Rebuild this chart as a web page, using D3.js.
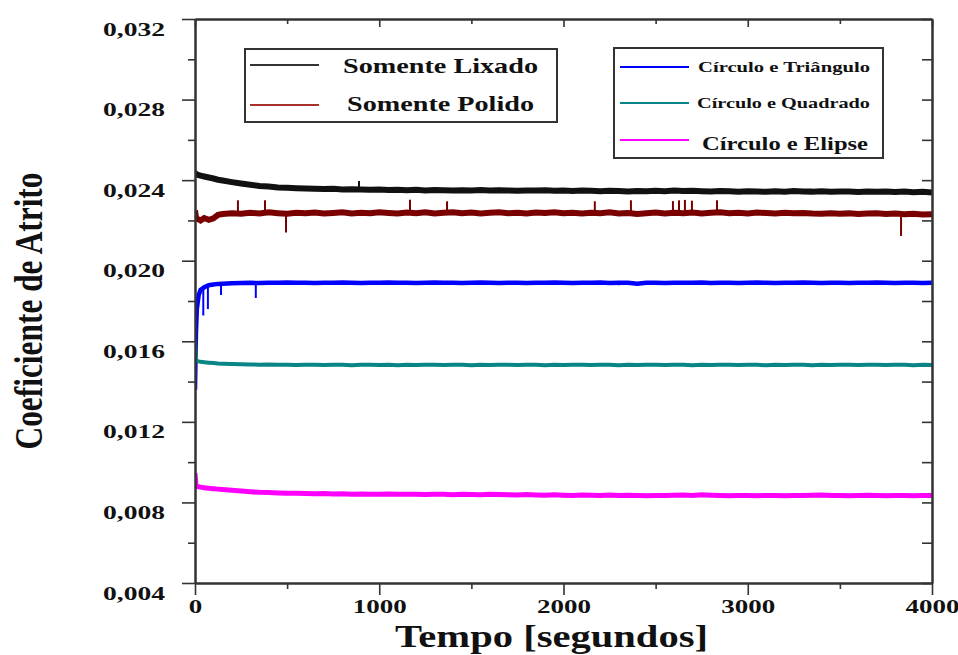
<!DOCTYPE html>
<html><head><meta charset="utf-8">
<script src="https://cdn.jsdelivr.net/npm/d3@7"></script>
<style>
html,body{margin:0;padding:0;background:#fff;}
svg{display:block;}
text{font-family:"Liberation Serif","Times New Roman",Times,serif;font-weight:bold;fill:#111;}
</style></head>
<body>
<svg id="chart" width="958" height="655"></svg>
<script>
// ---------- DATA ----------
const timeEarly = [0,5,10,20,30,50,75,100,125];
const times = timeEarly.concat(d3.range(150, 4001, 50));

const seriesNames = ["Somente Lixado","Somente Polido","Círculo e Triângulo","Círculo e Quadrado","Círculo e Elipse"];

const lixado = [
 .02435,.02432,.02428,.02425,.02422,.02418,.02413,.02408,.02402,
 .02398,.02390,.02383,.02377,.02371,.02368,.02364,.02362,.02360,.02359,
 .02357,.02356,.02357,.02354,.02355,.02353,.02352,.02354,.02351,.02352,
 .02350,.02352,.02349,.02351,.02350,.02348,.02350,.02349,.02351,.02348,
 .02350,.02349,.02347,.02349,.02348,.02350,.02347,.02348,.02346,.02348,
 .02347,.02345,.02347,.02346,.02344,.02346,.02345,.02347,.02345,.02348,
 .02346,.02347,.02345,.02344,.02346,.02345,.02343,.02345,.02344,.02342,
 .02345,.02343,.02346,.02344,.02343,.02345,.02342,.02344,.02343,.02341,
 .02344,.02342,.02343,.02341,.02343,.02340,.02342,.02338];

const polido = [
 .02250,.02215,.02208,.02205,.02200,.02212,.02203,.02210,.02228,
 .02232,.02236,.02233,.02238,.02235,.02240,.02236,.02233,.02238,.02236,
 .02239,.02234,.02237,.02240,.02235,.02238,.02236,.02240,.02237,.02234,
 .02239,.02236,.02240,.02235,.02238,.02241,.02236,.02239,.02235,.02238,
 .02240,.02236,.02238,.02235,.02239,.02237,.02241,.02236,.02238,.02235,
 .02238,.02236,.02240,.02234,.02237,.02232,.02236,.02239,.02235,.02238,
 .02236,.02239,.02235,.02238,.02240,.02236,.02238,.02235,.02239,.02237,
 .02235,.02238,.02236,.02237,.02234,.02233,.02236,.02233,.02235,.02232,
 .02234,.02236,.02232,.02234,.02231,.02233,.02229,.02231];

const triangulo = [
 .01360,.01640,.01760,.01830,.01855,.01868,.01878,.01882,.01885,
 .01886,.01888,.01889,.01890,.01889,.01891,.01890,.01892,.01890,.01891,
 .01889,.01891,.01890,.01892,.01890,.01889,.01891,.01890,.01892,.01890,
 .01891,.01889,.01890,.01892,.01890,.01891,.01889,.01890,.01892,.01890,
 .01889,.01891,.01890,.01889,.01891,.01890,.01892,.01890,.01889,.01891,
 .01890,.01892,.01889,.01891,.01890,.01886,.01890,.01891,.01889,.01890,
 .01891,.01890,.01892,.01889,.01890,.01891,.01889,.01890,.01892,.01890,
 .01889,.01891,.01890,.01892,.01890,.01889,.01891,.01890,.01889,.01891,
 .01890,.01892,.01890,.01889,.01891,.01890,.01889,.01890];

const quadrado = [
 .01605,.01510,.01503,.01500,.01498,.01496,.01494,.01492,.01490,
 .01489,.01487,.01486,.01485,.01484,.01485,.01483,.01484,.01482,.01484,
 .01483,.01482,.01484,.01483,.01481,.01483,.01484,.01482,.01483,.01481,
 .01483,.01482,.01484,.01483,.01482,.01484,.01483,.01481,.01483,.01482,
 .01484,.01483,.01482,.01484,.01483,.01481,.01483,.01482,.01484,.01483,
 .01482,.01484,.01483,.01481,.01483,.01482,.01484,.01483,.01482,.01484,
 .01483,.01481,.01483,.01482,.01484,.01483,.01482,.01484,.01483,.01481,
 .01483,.01482,.01484,.01483,.01481,.01483,.01482,.01484,.01483,.01482,
 .01484,.01483,.01482,.01484,.01483,.01481,.01483,.01482];

const elipse = [
 .00945,.00885,.00880,.00878,.00876,.00873,.00870,.00868,.00866,
 .00864,.00860,.00857,.00853,.00850,.00849,.00847,.00846,.00845,.00844,
 .00843,.00844,.00842,.00843,.00841,.00842,.00840,.00841,.00842,.00840,
 .00841,.00840,.00839,.00841,.00840,.00838,.00840,.00839,.00838,.00840,
 .00839,.00838,.00837,.00839,.00837,.00836,.00838,.00836,.00835,.00837,
 .00836,.00835,.00837,.00834,.00836,.00835,.00833,.00835,.00834,.00836,
 .00837,.00835,.00838,.00836,.00834,.00833,.00835,.00834,.00833,.00835,
 .00834,.00833,.00835,.00834,.00836,.00837,.00835,.00834,.00833,.00834,
 .00836,.00834,.00833,.00835,.00834,.00833,.00835,.00834];

// spikes: [time, value]
const lixadoSpikes = [[890,.02396],[1650,.02362]];
const polidoSpikes = [[233,.02300],[380,.02300],[494,.02140],[1167,.02303],[1368,.02295],[2170,.02295],
  [2366,.02300],[2594,.02296],[2627,.02300],[2659,.02302],[2697,.02298],[2833,.02300],[3832,.02123]];
const trianguloSpikes = [[45,.01728],[70,.01760],[141,.01830],[330,.01815],[2300,.01878]];

const yMajorTicks = [0.004,0.008,0.012,0.016,0.020,0.024,0.028,0.032];
const yMinorTicks = [0.006,0.010,0.014,0.018,0.022,0.026,0.030];
const xMajorTicks = [0,1000,2000,3000,4000];
const xMinorTicks = [500,1500,2500,3500];

const colors = ["#111111","#7a0000","#0000ff","#0a8585","#ff00ff"];

// ---------- CHART ----------
const svg = d3.select("#chart");
const x = d3.scaleLinear().domain([0,4000]).range([195,932]);
const y = d3.scaleLinear().domain([0.004,0.032]).range([583,19]);

svg.append("defs").append("clipPath").attr("id","clip")
  .append("rect").attr("x",x(0)).attr("y",y(0.032)).attr("width",x(4000)-x(0)).attr("height",y(0.004)-y(0.032));

const line = d3.line().x(d=>x(d[0])).y(d=>y(d[1]));
const allSeries = [lixado, polido, triangulo, quadrado, elipse];
const widths = [6,6,4.5,4,5];
const spikesBy = [lixadoSpikes, polidoSpikes, trianguloSpikes, null, null];

const plot = svg.append("g").attr("clip-path","url(#clip)");
allSeries.forEach((vals,i)=>{
  const pts = d3.zip(times, vals);
  plot.append("path").datum(pts)
    .attr("d", line).attr("fill","none").attr("stroke",colors[i])
    .attr("stroke-width",widths[i]).attr("stroke-linejoin","miter");
  const sp = spikesBy[i];
  if (sp) {
    const bis = d3.bisector(d=>d[0]).center;
    plot.selectAll(null).data(sp).enter().append("line")
      .attr("x1",d=>x(d[0])).attr("x2",d=>x(d[0]))
      .attr("y1",d=>y(pts[bis(pts,d[0])][1]))
      .attr("y2",d=>y(d[1]))
      .attr("stroke",colors[i]).attr("stroke-width",2);
  }
});

// ---------- AXES ----------
const fmt = v => d3.format(".3f")(v).replace(".", ",");
const axisColor = "#333";

function styleAxis(g){
  g.selectAll("path.domain").attr("stroke",axisColor).attr("stroke-width",2);
  g.selectAll(".tick line").attr("stroke",axisColor).attr("stroke-width",1.6);
}

// left
const gl = svg.append("g").attr("transform",`translate(${x(0)},0)`)
  .call(d3.axisLeft(y).tickValues(yMajorTicks).tickFormat(fmt).tickSizeInner(13).tickSizeOuter(0).tickPadding(17));
gl.call(styleAxis);
gl.selectAll(".tick text").attr("dy",null).attr("y",16)
  .style("font-size","19px").style("font-weight","bold").attr("fill","#111");
svg.append("g").attr("transform",`translate(${x(0)},0)`)
  .call(d3.axisLeft(y).tickValues(yMinorTicks).tickFormat("").tickSizeInner(7).tickSizeOuter(0)).call(styleAxis);

// right (inward)
svg.append("g").attr("transform",`translate(${x(4000)},0)`)
  .call(d3.axisRight(y).tickValues(yMajorTicks).tickFormat("").tickSizeInner(-10).tickSizeOuter(0)).call(styleAxis);
svg.append("g").attr("transform",`translate(${x(4000)},0)`)
  .call(d3.axisRight(y).tickValues(yMinorTicks).tickFormat("").tickSizeInner(-10).tickSizeOuter(0)).call(styleAxis);

// bottom
const gb = svg.append("g").attr("transform",`translate(0,${y(0.004)})`)
  .call(d3.axisBottom(x).tickValues(xMajorTicks).tickFormat(d3.format("d")).tickSizeInner(12).tickSizeOuter(0));
gb.call(styleAxis);
gb.selectAll(".tick text").attr("dy",null).attr("y",30)
  .style("font-size","19px").style("font-weight","bold").attr("fill","#111");
svg.append("g").attr("transform",`translate(0,${y(0.004)})`)
  .call(d3.axisBottom(x).tickValues(xMinorTicks).tickFormat("").tickSizeInner(6).tickSizeOuter(0)).call(styleAxis);

// top (inward)
svg.append("g").attr("transform",`translate(0,${y(0.032)})`)
  .call(d3.axisTop(x).tickValues(xMajorTicks).tickFormat("").tickSizeInner(-8).tickSizeOuter(0)).call(styleAxis);
svg.append("g").attr("transform",`translate(0,${y(0.032)})`)
  .call(d3.axisTop(x).tickValues(xMinorTicks).tickFormat("").tickSizeInner(-5).tickSizeOuter(0)).call(styleAxis);

// stretch tick labels horizontally
function stretch(sel, f){
  sel.each(function(){
    const w = this.getComputedTextLength();
    d3.select(this).attr("textLength", w*f).attr("lengthAdjust","spacingAndGlyphs");
  });
}
stretch(gl.selectAll(".tick text"), 1.45);
stretch(gb.selectAll(".tick text"), 1.42);

// axis titles
svg.append("text").attr("x",395).attr("y",647).style("font-size","31px")
  .attr("textLength",313).attr("lengthAdjust","spacingAndGlyphs").text("Tempo [segundos]");
svg.append("text").attr("transform","translate(42,311) rotate(-90)").attr("text-anchor","middle")
  .style("font-size","40px").attr("textLength",277).attr("lengthAdjust","spacingAndGlyphs")
  .text("Coeficiente de Atrito");

// ---------- LEGENDS ----------
const leg1 = svg.append("g");
leg1.append("rect").attr("x",245).attr("y",49).attr("width",312).attr("height",73)
  .attr("fill","#fff").attr("stroke",axisColor).attr("stroke-width",2);
const leg1Items = [
  {i:0, ly:65, tx:343, ty:73, tl:195, fs:21},
  {i:1, ly:105, tx:347, ty:111, tl:187, fs:21}
];
leg1Items.forEach(d=>{
  leg1.append("line").attr("x1",250).attr("x2",319).attr("y1",d.ly).attr("y2",d.ly)
    .attr("stroke", d.i===0 ? "#333" : "#a8302c").attr("stroke-width",2.2);
  leg1.append("text").attr("x",d.tx).attr("y",d.ty).style("font-size",d.fs+"px")
    .attr("textLength",d.tl).attr("lengthAdjust","spacingAndGlyphs").text(seriesNames[d.i]);
});

const leg2 = svg.append("g");
leg2.append("rect").attr("x",614).attr("y",48).attr("width",269).attr("height",110)
  .attr("fill","#fff").attr("stroke",axisColor).attr("stroke-width",2);
const leg2Items = [
  {i:2, ly:67, tx:698, ty:72, tl:172, fs:15},
  {i:3, ly:103, tx:697, ty:108, tl:173, fs:15},
  {i:4, ly:140, tx:702, ty:150, tl:166, fs:18}
];
leg2Items.forEach(d=>{
  leg2.append("line").attr("x1",620).attr("x2",689).attr("y1",d.ly).attr("y2",d.ly)
    .attr("stroke", colors[d.i]).attr("stroke-width",2.2);
  leg2.append("text").attr("x",d.tx).attr("y",d.ty).style("font-size",d.fs+"px")
    .attr("textLength",d.tl).attr("lengthAdjust","spacingAndGlyphs").text(seriesNames[d.i]);
});
</script>
</body></html>
